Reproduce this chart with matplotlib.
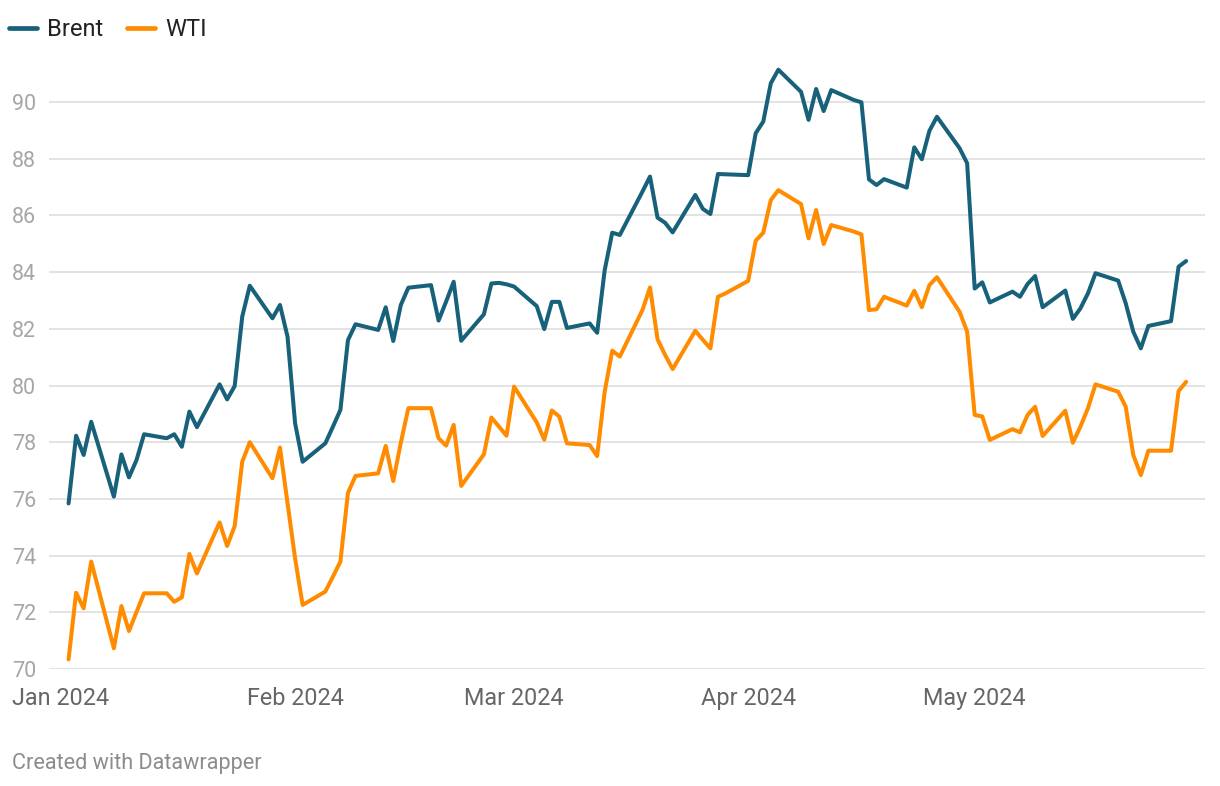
import matplotlib
matplotlib.use("Agg")
import matplotlib.pyplot as plt
import matplotlib.dates as mdates
import pandas as pd

# trading days Jan 2 - May 29 2024 (holidays carry previous value)
dates = pd.bdate_range("2024-01-02", "2024-05-29")

brent = [
    # Jan
    75.84, 78.23, 77.55, 78.72, 76.08, 77.57, 76.76, 77.37, 78.28, 78.14, 78.28,
    77.84, 79.08, 78.53, 80.04, 79.51, 79.98, 82.43, 83.52, 82.37, 82.84, 81.72,
    # Feb
    78.67, 77.31, 77.96, 78.54, 79.14, 81.60, 82.16, 81.96, 82.76, 81.57, 82.84,
    83.45, 83.54, 82.29, 82.96, 83.66, 81.58, 82.51, 83.60, 83.62, 83.57,
    # Mar
    83.49, 82.80, 81.99, 82.95, 82.95, 82.03, 82.19, 81.86, 84.07, 85.39, 85.31,
    86.84, 87.37, 85.92, 85.74, 85.40, 86.72, 86.23, 86.05, 87.46, 87.45,
    # Apr
    87.42, 88.90, 89.31, 90.66, 91.14, 90.36, 89.37, 90.46, 89.68, 90.42, 90.07,
    89.99, 87.27, 87.07, 87.28, 86.98, 88.40, 87.98, 88.98, 89.48, 88.37, 87.84,
    # May
    83.42, 83.64, 82.93, 83.31, 83.13, 83.58, 83.86, 82.76, 83.35, 82.35, 82.72,
    83.25, 83.96, 83.70, 82.90, 81.90, 81.31, 82.10, 82.27, 84.19, 84.39,
]

wti = [
    # Jan
    70.34, 72.69, 72.14, 73.79, 70.73, 72.22, 71.34, 72.01, 72.67, 72.67, 72.37,
    72.53, 74.06, 73.37, 75.17, 74.34, 75.04, 77.31, 78.00, 76.73, 77.81, 75.85,
    # Feb
    73.90, 72.26, 72.73, 73.25, 73.79, 76.21, 76.81, 76.90, 77.87, 76.63, 77.98,
    79.20, 79.20, 78.14, 77.88, 78.61, 76.46, 77.57, 78.87, 78.55, 78.23,
    # Mar
    79.96, 78.70, 78.09, 79.12, 78.90, 77.96, 77.90, 77.51, 79.78, 81.23, 81.02,
    82.66, 83.46, 81.63, 81.08, 80.58, 81.93, 81.61, 81.31, 83.13, 83.25,
    # Apr
    83.69, 85.11, 85.39, 86.54, 86.89, 86.40, 85.19, 86.19, 84.99, 85.66, 85.43,
    85.33, 82.66, 82.69, 83.13, 82.82, 83.34, 82.76, 83.54, 83.82, 82.60, 81.90,
    # May
    78.96, 78.91, 78.08, 78.46, 78.35, 78.96, 79.25, 78.22, 79.11, 77.98, 78.55,
    79.20, 80.04, 79.78, 79.25, 77.55, 76.84, 77.70, 77.70, 79.80, 80.13,
]

month_ticks = pd.date_range("2024-01-01", "2024-05-01", freq="MS")
y_ticks = list(range(70, 91, 2))

BRENT_COLOR = "#18617a"
WTI_COLOR = "#ff8c00"

plt.rcParams["font.family"] = ["Roboto", "DejaVu Sans"]

W, H = 1220, 786
fig = plt.figure(figsize=(W / 100, H / 100), dpi=100)
ax = fig.add_axes([49 / W, 1 - 669 / H, (1205 - 49) / W, (669 - 60) / H])

for y in y_ticks:
    ax.axhline(y, color="#e3e3e3", lw=1.4, zorder=1)

l1, = ax.plot(dates, brent, color=BRENT_COLOR, lw=2.9, solid_joinstyle="round",
              solid_capstyle="round", zorder=3, clip_on=False, label="Brent")
l2, = ax.plot(dates, wti, color=WTI_COLOR, lw=2.9, solid_joinstyle="round",
              solid_capstyle="round", zorder=3, clip_on=False, label="WTI")

start = pd.Timestamp("2024-01-01")
ax.set_xlim(start - pd.Timedelta(days=1.59), start + pd.Timedelta(days=151.5))
ax.set_ylim(70, 70 + (669 - 60) / 28.35)

ax.set_xticks(month_ticks)
ax.xaxis.set_major_formatter(mdates.DateFormatter("%b %Y"))
ax.set_yticks(y_ticks)
ax.set_yticklabels([str(v) for v in y_ticks])
for lab in ax.get_yticklabels():
    lab.set_horizontalalignment("left")

ax.tick_params(axis="x", length=0, pad=13, labelsize=16.8, labelcolor="#666666")
ax.tick_params(axis="y", length=0, pad=26.6, labelsize=15.5, labelcolor="#a6a6a6")

for s in ax.spines.values():
    s.set_visible(False)

leg = ax.legend(handles=[l1, l2], loc="upper left", bbox_to_anchor=(9 / W, 1 - 18 / H),
                bbox_transform=fig.transFigure, ncol=2, frameon=False,
                fontsize=17, handlelength=1.2, handletextpad=0.42,
                columnspacing=1.0, borderpad=0, borderaxespad=0)
for t in leg.get_texts():
    t.set_color("#222222")
for h in leg.legend_handles:
    h.set_linewidth(3.4)

fig.text(12 / W, 1 - 763 / H, "Created with Datawrapper", fontsize=15.6,
         color="#8c8c8c", va="center", ha="left")

fig.savefig("out.png", dpi=100)
